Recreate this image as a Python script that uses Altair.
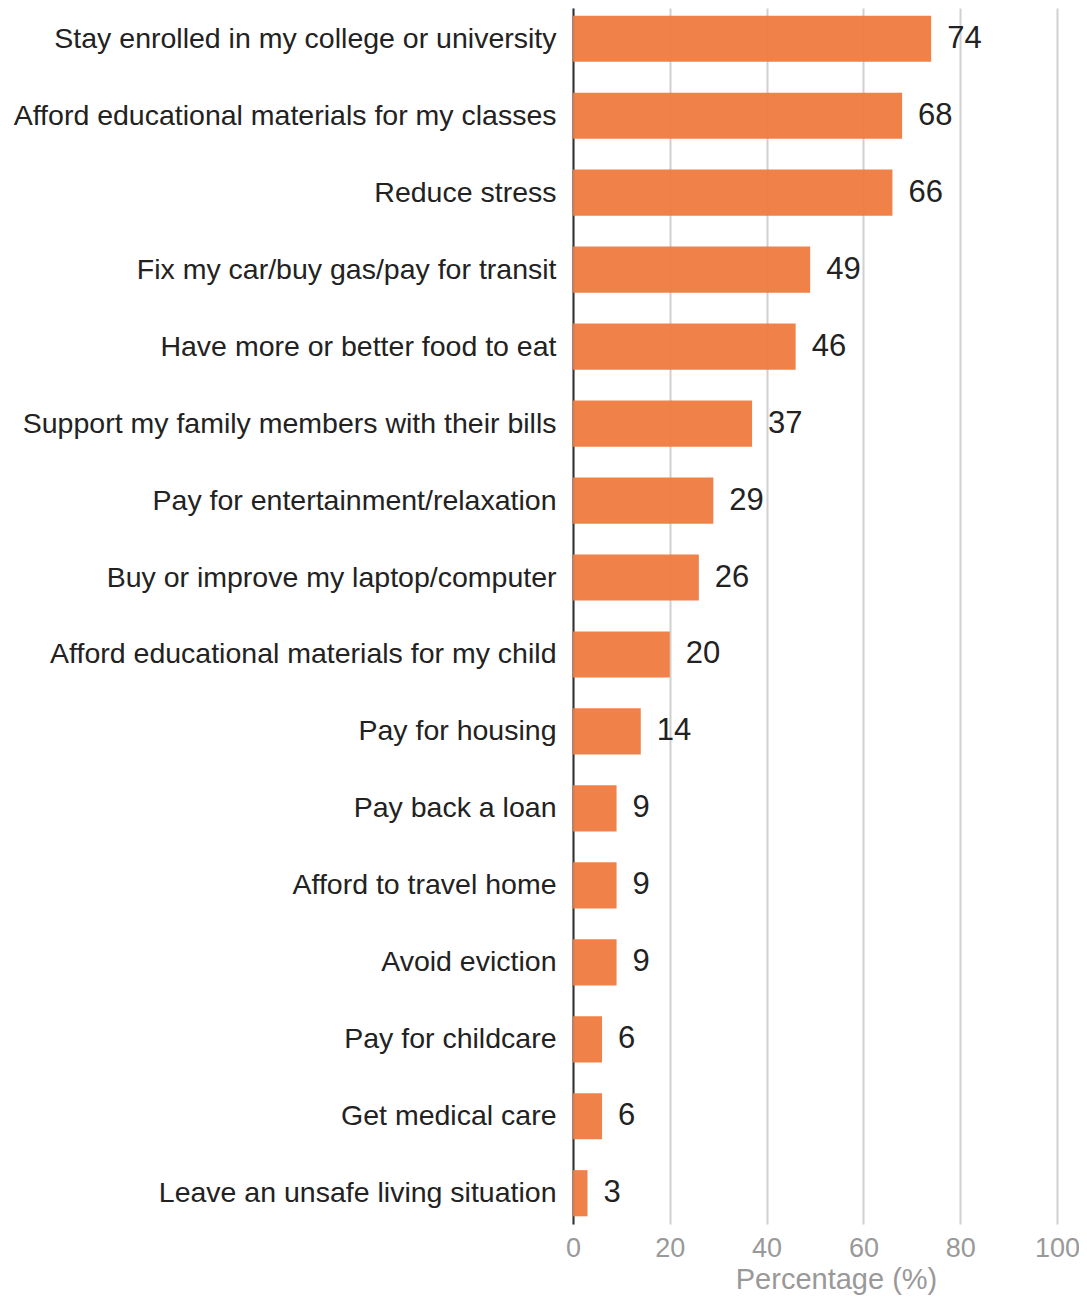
import altair as alt
import pandas as pd

categories = [
    "Stay enrolled in my college or university",
    "Afford educational materials for my classes",
    "Reduce stress",
    "Fix my car/buy gas/pay for transit",
    "Have more or better food to eat",
    "Support my family members with their bills",
    "Pay for entertainment/relaxation",
    "Buy or improve my laptop/computer",
    "Afford educational materials for my child",
    "Pay for housing",
    "Pay back a loan",
    "Afford to travel home",
    "Avoid eviction",
    "Pay for childcare",
    "Get medical care",
    "Leave an unsafe living situation",
]
values = [74, 68, 66, 49, 46, 37, 29, 26, 20, 14, 9, 9, 9, 6, 6, 3]

df = pd.DataFrame({"cat": categories, "val": values})

FONT = "Liberation Sans"

y_enc = alt.Y(
    "cat:N",
    sort=categories,
    title=None,
    scale=alt.Scale(paddingInner=0.4, paddingOuter=0.1),
    axis=alt.Axis(
        labelFontSize=28.5,
        labelColor="#222222",
        labelFont=FONT,
        labelPadding=17,
        ticks=False,
        domain=True,
        domainColor="#333333",
        domainWidth=2,
        grid=False,
        labelLimit=1000,
    ),
)

x_enc = alt.X(
    "val:Q",
    title="Percentage (%)",
    scale=alt.Scale(domain=[0, 100], nice=False),
    axis=alt.Axis(
        values=[0, 20, 40, 60, 80, 100],
        labelFontSize=27,
        labelColor="#999999",
        labelFont=FONT,
        labelPadding=11,
        labelFlush=False,
        ticks=False,
        domain=False,
        grid=True,
        gridColor="#d0d0d0",
        gridWidth=2,
        titleFontSize=29,
        titleFont=FONT,
        titleFontWeight="normal",
        titleColor="#999999",
        titlePadding=4,
        titleX=263,
    ),
)

bars = alt.Chart(df).mark_bar(color="#EF7A3E", opacity=0.95).encode(
    x=x_enc,
    y=y_enc,
)

text = alt.Chart(df).mark_text(
    align="left", baseline="middle", dx=16, fontSize=31, font=FONT, color="#222222"
).encode(
    x="val:Q",
    y=alt.Y("cat:N", sort=categories),
    text="val:Q",
)

chart = (
    alt.layer(bars, text)
    .properties(
        width=484,
        height=1216,
        autosize=alt.AutoSizeParams(type="none"),
        padding={"left": 565, "top": 0, "right": 22, "bottom": 72},
    )
    .configure_view(stroke=None)
)

chart.save("out.html", embed_options={"renderer": "svg", "actions": False})
